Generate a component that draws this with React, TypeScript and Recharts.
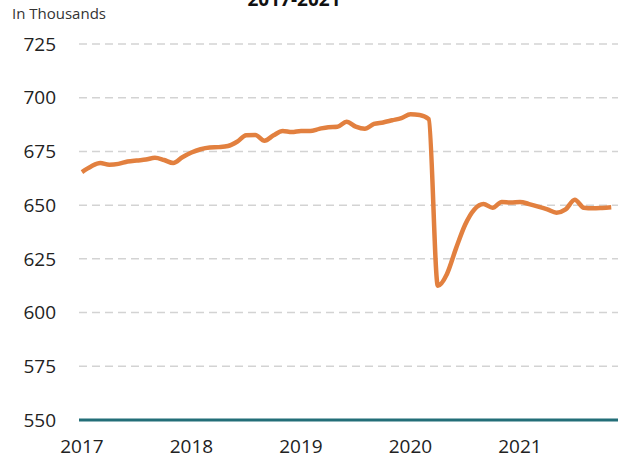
import React from 'react';
import {
  CartesianGrid,
  Line,
  LineChart,
  XAxis,
  YAxis,
} from 'recharts';

// Monthly values, Jan 2017 .. Nov 2021 (in thousands)
const MONTHS_2017 = [665.4, 668, 669.6, 668.8, 669.2, 670.3, 670.8, 671.2, 672, 671, 669.6, 672.3];
const MONTHS_2018 = [674.5, 676, 676.8, 677, 677.5, 679.5, 682.5, 682.7, 680, 682.5, 684.5, 684];
const MONTHS_2019 = [684.5, 684.5, 685.5, 686.3, 686.5, 688.8, 686.5, 685.5, 687.8, 688.5, 689.5, 690.5];
const MONTHS_2020 = [692.3, 692, 690, 612.5, 618, 630, 641, 648, 650.5, 648.8, 651.5, 651.2];
const MONTHS_2021 = [651.5, 650.5, 649.3, 648, 646.5, 648, 652.5, 648.8, 648.5, 648.7, 649];

const YEARS = [2017, 2018, 2019, 2020, 2021];
const Y_TICKS = [550, 575, 600, 625, 650, 675, 700, 725];

const series = [MONTHS_2017, MONTHS_2018, MONTHS_2019, MONTHS_2020, MONTHS_2021];
const data = series.flatMap((vals, yi) =>
  vals.map((v, m) => ({ t: YEARS[yi] + m / 12, value: v }))
);

const FONT = '"Open Sans", sans-serif';

export default function App() {
  return (
    <div style={{ position: 'absolute', left: 0, top: 0, width: 618, height: 466, background: '#fff' }}>
      <LineChart
        width={618}
        height={466}
        data={data}
        margin={{ top: 44, right: 0, bottom: 0, left: 0 }}
        style={{ fontFamily: FONT }}
      >
        <text x={12} y={19} fontSize={15} fill="#333" fontFamily={FONT}>
          In Thousands
        </text>
        <text x={294} y={6} fontSize={19} fontWeight={700} fill="#111" textAnchor="middle" fontFamily={FONT}>
          2017-2021
        </text>
        <CartesianGrid vertical={false} stroke="#d3d3d3" strokeWidth={1.5} strokeDasharray="8 5" />
        <XAxis
          dataKey="t"
          type="number"
          domain={[2016.973, 2021.895]}
          ticks={YEARS}
          tickFormatter={(v) => String(Math.round(v))}
          height={46}
          tickLine={false}
          tickSize={0}
          tickMargin={20}
          axisLine={{ stroke: '#236E78', strokeWidth: 3 }}
          tick={{ fontSize: 19, fill: '#222' }}
        />
        <YAxis
          domain={[550, 725]}
          ticks={Y_TICKS}
          width={79}
          axisLine={false}
          tickLine={false}
          tickSize={0}
          tickMargin={23}
          tick={{ fontSize: 19, fill: '#222' }}
        />
        <Line
          type="monotone"
          dataKey="value"
          stroke="#E2803F"
          strokeWidth={4.5}
          dot={false}
          isAnimationActive={false}
        />
      </LineChart>
    </div>
  );
}
